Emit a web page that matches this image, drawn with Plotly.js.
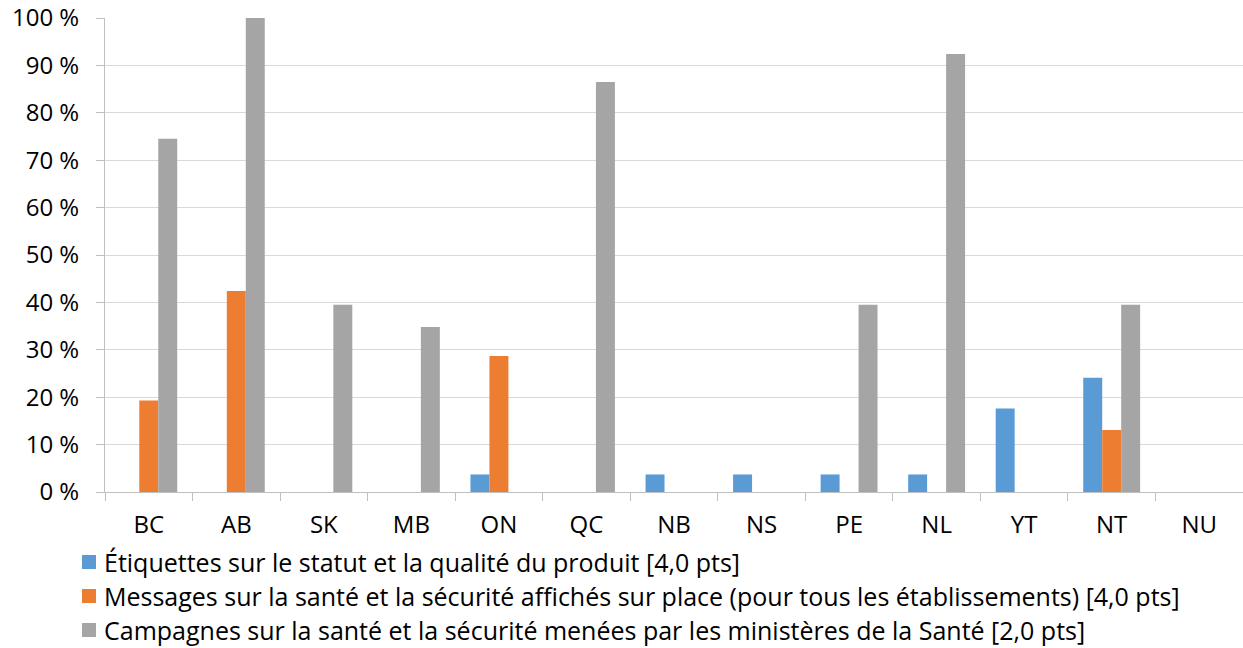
<!DOCTYPE html>
<html>
<head>
<meta charset="utf-8">
<script src="https://cdn.plot.ly/plotly-3.0.1.min.js"></script>
<style>html,body{margin:0;padding:0;background:#fff;}#chart{width:1243px;height:648px;}</style>
</head>
<body>
<div id="chart"></div>
<script>
const categories = ["BC","AB","SK","MB","ON","QC","NB","NS","PE","NL","YT","NT","NU"];
const seriesNames = [
  "Étiquettes sur le statut et la qualité du produit [4,0 pts]",
  "Messages sur la santé et la sécurité affichés sur place (pour tous les établissements) [4,0 pts]",
  "Campagnes sur la santé et la sécurité menées par les ministères de la Santé [2,0 pts]"
];
const etiquettes = [0, 0, 0, 0, 3.7, 0, 3.7, 3.7, 3.7, 3.7, 17.6, 24.1, 0];
const messages   = [19.3, 42.4, 0, 0, 28.7, 0, 0, 0, 0, 0, 0, 13.1, 0];
const campagnes  = [74.5, 100, 39.5, 34.8, 0, 86.5, 0, 0, 39.5, 92.4, 0, 39.5, 0];
const yTicks = [0,10,20,30,40,50,60,70,80,90,100];
const yTickText = yTicks.map(v => v + " %");
const colors = ["#5b9bd5", "#ed7d31", "#a5a5a5"];

const values = [etiquettes, messages, campagnes];
const data = values.map((vals, i) => ({
  type: "bar",
  x: categories,
  y: vals,
  name: seriesNames[i],
  marker: {color: colors[i]},
  hoverinfo: "x+y+name",
  showlegend: false
}));

const font = {family: "'Open Sans', 'Liberation Sans', sans-serif", size: 24, color: "#000"};
const legendFont = {family: "'Open Sans', 'Liberation Sans', sans-serif", size: 25, color: "#000"};

// Legend drawn manually below the plot (paper coordinates)
const plotW = 1138, plotH = 474;
const legendRowY = [562, 596, 630].map(py => (474 - (py - 18)) / plotH);
const half = 7 / plotH;
const shapes = [], annotations = [];
seriesNames.forEach((name, i) => {
  shapes.push({
    type: "rect", xref: "paper", yref: "paper",
    x0: (82 - 105) / plotW, x1: (96 - 105) / plotW,
    y0: legendRowY[i] - half, y1: legendRowY[i] + half,
    fillcolor: colors[i], line: {width: 0}
  });
  annotations.push({
    xref: "paper", yref: "paper",
    x: (103 - 105) / plotW, y: legendRowY[i],
    xanchor: "left", yanchor: "middle",
    text: name, showarrow: false, font: legendFont,
    borderpad: 0
  });
});

const layout = {
  width: 1243, height: 648,
  margin: {l: 105, r: 0, t: 18, b: 156},
  paper_bgcolor: "#fff", plot_bgcolor: "#fff",
  font: font,
  barmode: "group",
  bargap: 0.35,
  bargroupgap: 0,
  showlegend: false,
  shapes: shapes,
  annotations: annotations,
  xaxis: {
    type: "category",
    showline: true, linecolor: "#bfbfbf", linewidth: 1,
    ticks: "outside", tickson: "boundaries", ticklen: 8, tickcolor: "#bfbfbf",
    ticklabelstandoff: 11,
    showgrid: false,
    tickfont: font,
    fixedrange: true
  },
  yaxis: {
    range: [0, 100],
    tickvals: yTicks, ticktext: yTickText,
    showline: true, linecolor: "#bfbfbf", linewidth: 1,
    ticks: "outside", ticklen: 8, tickcolor: "#bfbfbf",
    ticklabelstandoff: 12,
    showgrid: true, gridcolor: "#d9d9d9", gridwidth: 1,
    zeroline: false,
    tickfont: font,
    fixedrange: true
  }
};
Plotly.newPlot("chart", data, layout, {displayModeBar: false, staticPlot: true});
</script>
</body>
</html>
